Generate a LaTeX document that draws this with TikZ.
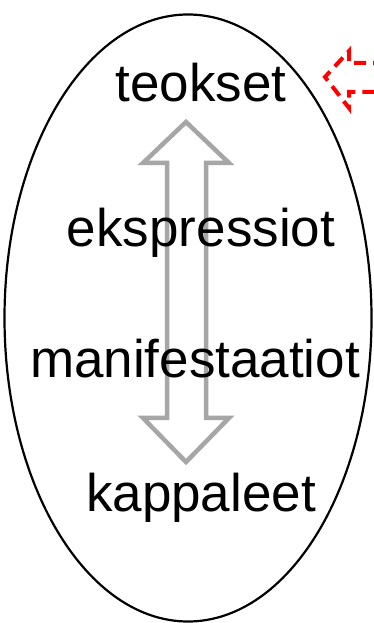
\documentclass[tikz,border=0pt]{standalone}
\usepackage{fontspec}
\setmainfont{Liberation Sans}
\usetikzlibrary{shapes.geometric}
\begin{document}
\begin{tikzpicture}[x=1pt,y=1pt,
  lbl/.style={anchor=base,inner sep=0pt,font=\fontsize{53}{60}\selectfont},
  grayarrow/.style={draw={rgb,255:red,166;green,166;blue,166},line width=4.5pt,line join=miter,fill=white},
  redarrow/.style={draw=red,line width=4pt,dash pattern=on 12pt off 7pt}]
\useasboundingbox (0,0) rectangle (374,623);
\clip (0,0) rectangle (374,623);
\fill[white] (0,0) rectangle (374,623);
\node[ellipse,draw,line width=2.2pt,minimum width=367pt,minimum height=607pt,inner sep=0pt] (oval) at (188,305) {};
\draw[grayarrow] (186,501) -- (229,460) -- (206,460) -- (206,205) -- (229,205) -- (186,161)
  -- (143,205) -- (167,205) -- (167,460) -- (143,460) -- cycle;
\node[lbl] (t) at (201,521) {teokset};
\node[lbl] (e) at (201,376) {ekspressiot};
\node[lbl] (m) at (195,245) {manifestaatiot};
\node[lbl] (k) at (201,111) {kappaleet};
\draw[redarrow] (385,560) -- (349,560) -- (349,572) -- (325,546) -- (349,515) -- (349,531) -- (385,531);
\end{tikzpicture}
\end{document}
